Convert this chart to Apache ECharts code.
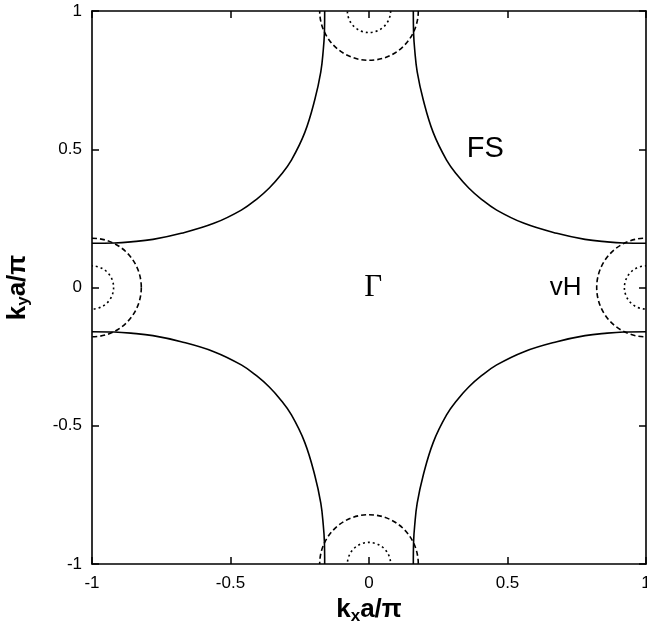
<!DOCTYPE html>
<html>
<head>
<meta charset="utf-8">
<script src="https://cdn.jsdelivr.net/npm/echarts@6/dist/echarts.min.js"></script>
<style>
html,body{margin:0;padding:0;background:#fff;}
#chart{width:647px;height:622px;}
</style>
</head>
<body>
<div id="chart"></div>
<script>
// Axis ticks
var axisTicks = [-1, -0.5, 0, 0.5, 1];

// Fermi surface, one quadrant (kx>0, ky>0)
var fsQuadKx = [0.160, 0.161, 0.165, 0.174, 0.196, 0.232, 0.280, 0.320, 0.360, 0.405, 0.461, 0.560, 0.678, 0.780, 0.860, 0.920, 1.000];
var fsQuadKy = [1.000, 0.920, 0.860, 0.780, 0.678, 0.560, 0.461, 0.405, 0.360, 0.320, 0.280, 0.232, 0.196, 0.174, 0.165, 0.161, 0.160];

// Quadrant signs for the four branches
var quadSignX = [1, -1, -1, 1];
var quadSignY = [1, 1, -1, -1];

// Van Hove circles: centres and radii
var circleCx = [0, 0, 1, -1];
var circleCy = [1, -1, 0, 0];
var bigRadius = 0.178;
var smallRadius = 0.078;

// Text labels in the plot
var labelText = ['FS', 'vH', 'Γ'];
var labelX = [0.42, 0.71, 0.015];
var labelY = [0.50, 0.0, 0.0];

var chart = echarts.init(document.getElementById('chart'), null, {renderer: 'canvas'});

var series = [];
for (var q = 0; q < 4; q++) {
  var pts = [];
  for (var i = 0; i < fsQuadKx.length; i++) {
    pts.push([quadSignX[q] * fsQuadKx[i], quadSignY[q] * fsQuadKy[i]]);
  }
  series.push({
    type: 'line', data: pts, showSymbol: false, smooth: 0.4,
    lineStyle: {color: '#000', width: 1.6}, silent: true, z: 3
  });
}

function circleData(r) {
  var d = [];
  for (var i = 0; i < circleCx.length; i++) d.push([circleCx[i], circleCy[i], r]);
  return d;
}
function circleSeries(r, dash) {
  return {
    type: 'custom',
    data: circleData(r),
    silent: true,
    z: 2,
    renderItem: function (params, api) {
      var c = api.coord([api.value(0), api.value(1)]);
      var rp = api.size([api.value(2), 0])[0];
      var cs = params.coordSys;
      return {
        type: 'group',
        clipPath: {type: 'rect', shape: {x: cs.x, y: cs.y, width: cs.width, height: cs.height}},
        children: [{
          type: 'circle',
          shape: {cx: c[0], cy: c[1], r: rp},
          style: {fill: 'none', stroke: '#000', lineWidth: 1.6, lineDash: dash}
        }]
      };
    }
  };
}
series.push(circleSeries(bigRadius, [5, 3]));
series.push(circleSeries(smallRadius, [2, 3]));

var labelData = [];
for (var k = 0; k < labelText.length; k++) {
  var item = {value: [labelX[k], labelY[k]], name: labelText[k]};
  if (labelText[k] === 'Γ') item.label = {fontFamily: 'Liberation Serif', fontSize: 31, color: '#000'};
  if (labelText[k] === 'vH') item.label = {fontSize: 26, color: '#000'};
  labelData.push(item);
}
series.push({
  type: 'scatter', data: labelData, symbolSize: 0, silent: true, z: 5,
  itemStyle: {opacity: 1},
  label: {
    show: true, position: 'inside', formatter: function (p) { return p.name; },
    color: '#000', fontFamily: 'Liberation Sans', fontSize: 29, opacity: 1
  }
});

var tickLabelStyle = {color: '#000', fontFamily: 'Liberation Sans', fontSize: 17};
var axisLineStyle = {onZero: false, lineStyle: {color: '#000', width: 1.6}};
var tickStyle = {show: true, inside: true, length: 7, lineStyle: {color: '#000', width: 1.5}};
var nameStyle = {
  color: '#000', fontFamily: 'Liberation Sans', fontSize: 26, fontWeight: 'bold',
  rich: {s: {fontFamily: 'Liberation Sans', fontSize: 17, fontWeight: 'bold', verticalAlign: 'bottom', padding: [12, 0, 0, 0]}}
};

var option = {
  animation: false,
  backgroundColor: '#fff',
  grid: {left: 92, right: 1, top: 11, bottom: 58, containLabel: false, outerBoundsMode: 'none'},
  xAxis: [{
    type: 'value', min: -1, max: 1, interval: 0.5, position: 'bottom',
    axisLine: axisLineStyle, axisTick: tickStyle,
    axisLabel: Object.assign({margin: 11, formatter: function (v) { return String(v); }}, tickLabelStyle),
    splitLine: {show: false},
    name: 'k{s|x}a/π', nameLocation: 'middle', nameGap: 26,
    nameTextStyle: nameStyle
  }, {
    type: 'value', min: -1, max: 1, interval: 0.5, position: 'top',
    axisLine: axisLineStyle, axisTick: tickStyle,
    axisLabel: {show: false}, splitLine: {show: false}
  }],
  yAxis: [{
    type: 'value', min: -1, max: 1, interval: 0.5, position: 'left',
    axisLine: axisLineStyle, axisTick: tickStyle,
    axisLabel: Object.assign({margin: 10, formatter: function (v) { return String(v); }}, tickLabelStyle),
    splitLine: {show: false},
    name: 'k{s|y}a/π', nameLocation: 'middle', nameGap: 60, nameRotate: 90,
    nameTextStyle: nameStyle
  }, {
    type: 'value', min: -1, max: 1, interval: 0.5, position: 'right',
    axisLine: axisLineStyle, axisTick: tickStyle,
    axisLabel: {show: false}, splitLine: {show: false}
  }],
  series: series
};

chart.setOption(option);
</script>
</body>
</html>
